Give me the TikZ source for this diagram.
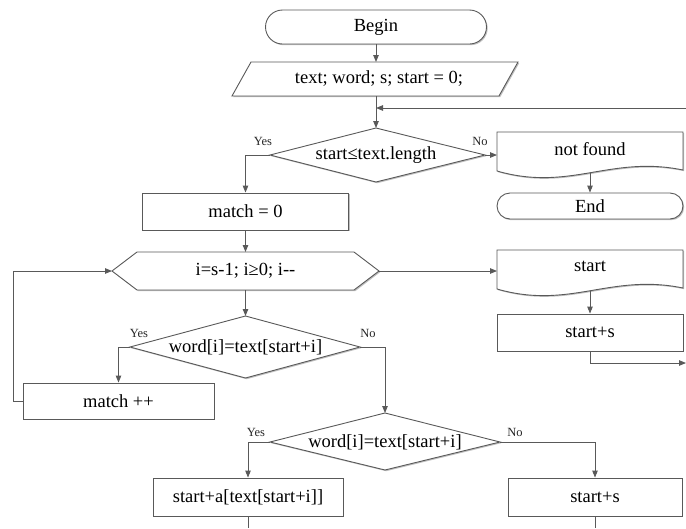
\documentclass[tikz,border=0pt]{standalone}
\usepackage{fontspec}
\setmainfont{Liberation Serif}
\usetikzlibrary{arrows.meta,shapes.misc,shadows}
\definecolor{ln}{RGB}{89,89,89}
\tikzset{
  lw/.style={draw=ln, line width=0.9pt},
  shd/.style={drop shadow={shadow xshift=1.2pt, shadow yshift=-1.2pt, opacity=0.25, fill=black}},
  txt/.style={font=\fontsize{18.5}{21}\selectfont, inner sep=0pt},
  procbox/.style={lw, shd, fill=white, txt, rectangle},
  termbox/.style={lw, shd, fill=white, txt, rounded rectangle},
  shp/.style={lw, shd, fill=white, line join=miter},
  lbl/.style={font=\fontsize{12.5}{14}\selectfont, inner sep=0pt, text=black!85},
  conn/.style={lw, -{Triangle[length=7pt,width=5.5pt]}},
  plainline/.style={lw},
}
\begin{document}
\begin{tikzpicture}[x=1pt,y=-1pt]
\useasboundingbox (0,0) rectangle (686,528);
% Begin
\node[termbox, minimum width=221pt, minimum height=34pt] (begin) at (376,27) {Begin};
% input
\draw[shp] (251,62) -- (518,62) -- (499,96) -- (232,96) -- cycle;
\node[txt] (io) at (379,79) {text; word; s; start = 0;};
\coordinate (iotop) at (376,62);
\coordinate (iobot) at (376,96);
\draw[conn] (begin.south) -- (iotop);
% diamond 1
\coordinate (d1n) at (376,128);
\coordinate (d1w) at (270,155);
\coordinate (d1e) at (485,155);
\coordinate (d1s) at (376,182);
\draw[shp] (d1n) -- (d1e) -- (d1s) -- (d1w) -- cycle;
\node[txt] (d1) at (376,155) {start≤text.length};
\draw[conn] (iobot) -- (d1n);
\coordinate (ret) at (686,108);
\coordinate (retj) at (376,108);
\draw[conn] (ret) -- (retj);
\node[lbl] (y1) at (263,141) {Yes};
\node[lbl] (n1) at (480,141) {No};
% match = 0
\node[procbox, minimum width=206pt, minimum height=37pt] (m0) at (245.5,211.5) {match = 0};
\draw[conn] (d1w) -| (m0.north);
% not found
\draw[shp] (497,132) -- (683,132) -- (683,170) .. controls (610,155) and (570,192) .. (497,171) -- cycle;
\node[txt] (nf) at (590,149) {not found};
\coordinate (nfw) at (497,155);
\coordinate (nfs) at (590,173);
\draw[conn] (d1e) -- (nfw);
\node[termbox, minimum width=186pt, minimum height=26pt] (end) at (590,206) {End};
\draw[conn] (nfs) -- (end.north);
% loop hexagon
\coordinate (hw) at (112,271);
\coordinate (hn) at (245.5,252);
\coordinate (he) at (379,271);
\coordinate (hs) at (245.5,290);
\draw[shp] (hw) -- (137,252) -- (354,252) -- (he) -- (354,290) -- (137,290) -- cycle;
\node[txt] (hx) at (245.5,271) {i=s-1; i≥0; i-{}-};
\draw[conn] (m0.south) -- (hn);
% start document
\draw[shp] (497,250) -- (683,250) -- (683,288) .. controls (610,273) and (570,310) .. (497,289) -- cycle;
\node[txt] (sd) at (590,266) {start};
\coordinate (sdw) at (497,271);
\coordinate (sds) at (590,291);
\draw[conn] (he) -- (sdw);
\node[procbox, minimum width=186pt, minimum height=37pt] (ss1) at (590,332.5) {start+s};
\draw[conn] (sds) -- (ss1.north);
\coordinate (exit) at (686,363);
\draw[conn] (ss1.south) |- (exit);
% diamond 2
\coordinate (d2n) at (245.5,316);
\coordinate (d2w) at (130,347);
\coordinate (d2e) at (360,347);
\coordinate (d2s) at (245.5,378);
\draw[shp] (d2n) -- (d2e) -- (d2s) -- (d2w) -- cycle;
\node[txt] (d2) at (245.5,347) {word[i]=text[start+i]};
\draw[conn] (hs) -- (d2n);
\node[lbl] (y2) at (139,333) {Yes};
\node[lbl] (n2) at (368,333) {No};
% match ++
\node[procbox, minimum width=191pt, minimum height=36pt] (mpp) at (118.5,401) {match ++};
\draw[conn] (d2w) -| (mpp.north);
\coordinate (lp) at (13,401);
\draw[conn] (mpp.west) -- (lp) |- (hw);
% diamond 3
\coordinate (d3n) at (385,413);
\coordinate (d3w) at (270,442);
\coordinate (d3e) at (500,442);
\coordinate (d3s) at (385,470);
\draw[conn] (d2e) -| (d3n);
\draw[shp] (d3n) -- (d3e) -- (d3s) -- (d3w) -- cycle;
\node[txt] (d3) at (385,442) {word[i]=text[start+i]};
\node[lbl] (y3) at (256,432) {Yes};
\node[lbl] (n3) at (515,432) {No};
% bottom boxes
\node[procbox, minimum width=190pt, minimum height=38pt] (sa) at (248,497) {start+a[text[start+i]]};
\node[procbox, minimum width=174pt, minimum height=38pt] (sb) at (595,497) {start+s};
\draw[conn] (d3w) -| (sa.north);
\draw[conn] (d3e) -| (sb.north);
\coordinate (ea) at (248,528);
\coordinate (eb) at (595,528);
\draw[plainline] (sa.south) -- (ea);
\draw[plainline] (sb.south) -- (eb);
\end{tikzpicture}
\end{document}
